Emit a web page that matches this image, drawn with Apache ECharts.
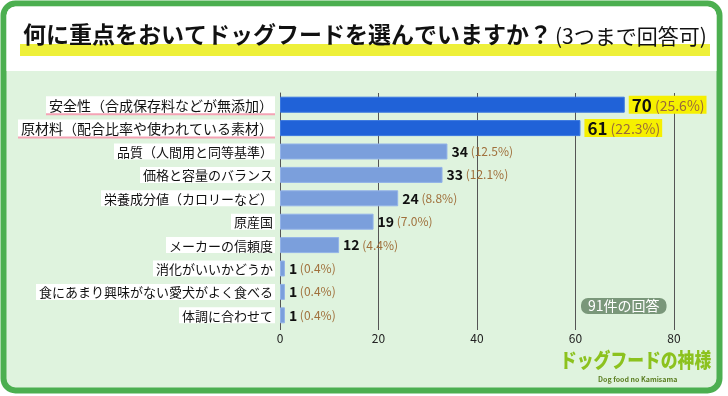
<!DOCTYPE html>
<html>
<head>
<meta charset="utf-8">
<script src="https://cdn.jsdelivr.net/npm/echarts@6/dist/echarts.min.js"></script>
<style>
  html, body { margin: 0; padding: 0; background: #fff; }
  #chart { width: 728px; height: 396px; }
</style>
</head>
<body>
<div id="chart"></div>
<script>
  // 回答項目（上から順）
  const categories = [
    '安全性（合成保存料などが無添加）',
    '原材料（配合比率や使われている素材）',
    '品質（人間用と同等基準）',
    '価格と容量のバランス',
    '栄養成分値（カロリーなど）',
    '原産国',
    'メーカーの信頼度',
    '消化がいいかどうか',
    '食にあまり興味がない愛犬がよく食べる',
    '体調に合わせて'
  ];
  const counts = [70, 61, 34, 33, 24, 19, 12, 1, 1, 1];
  const percents = ['25.6', '22.3', '12.5', '12.1', '8.8', '7.0', '4.4', '0.4', '0.4', '0.4'];
  const xTicks = [0, 20, 40, 60, 80];
  const topCount = 2; // 強調する上位項目

  const FONT = '"Noto Sans CJK JP", "Noto Sans", sans-serif';
  const chart = echarts.init(document.getElementById('chart'));

  const barData = counts.map((v, i) => {
    if (i < topCount) {
      return {
        value: v,
        itemStyle: { color: '#2062d8', borderColor: '#3a78e0', borderWidth: 1 },
        label: { backgroundColor: '#f6f000', padding: [1, 2, 0, 3] }
      };
    }
    return v;
  });

  const option = {
    animation: false,
    backgroundColor: '#fff',
    textStyle: { fontFamily: FONT },
    graphic: [
      {
        type: 'rect', z: 0,
        shape: { x: 3.5, y: 3.5, width: 716, height: 387, r: 12 },
        style: { fill: '#dff3de', stroke: '#4caf50', lineWidth: 6 }
      },
      {
        type: 'rect', z: 1,
        shape: { x: 6.5, y: 6.5, width: 710, height: 64.5, r: [9, 9, 0, 0] },
        style: { fill: '#fff' }
      },
      {
        type: 'rect', z: 2,
        shape: { x: 20, y: 44, width: 690, height: 12 },
        style: { fill: '#eef03a' }
      },
      {
        type: 'text', z: 3, x: 23, y: 23,
        style: {
          text: '何に重点をおいてドッグフードを選んでいますか？',
          font: 'bold 23px ' + FONT, fill: '#111'
        }
      },
      {
        type: 'text', z: 3, x: 555, y: 26,
        style: {
          text: '(3つまで回答可)',
          font: '21px ' + FONT, fill: '#111'
        }
      },
      {
        type: 'text', z: 10, x: 581, y: 298,
        style: {
          text: '91件の回答',
          font: '14px ' + FONT, fill: '#fff',
          backgroundColor: '#7a977a', borderRadius: 7,
          padding: [1, 7, 1, 7]
        }
      },
      {
        type: 'text', z: 3, x: 560, y: 350, scaleX: 0.84,
        style: {
          text: 'ドッグフードの神様',
          font: '900 20px ' + FONT, fill: '#8cc21e'
        }
      },
      {
        type: 'text', z: 3, x: 598, y: 376,
        style: {
          text: 'Dog food no Kamisama',
          font: 'bold 7px ' + FONT, fill: '#5c7f22'
        }
      }
    ],
    grid: {
      left: 280, right: 54, top: 93, bottom: 69,
      show: true, backgroundColor: '#fff', borderWidth: 0
    },
    xAxis: {
      type: 'value',
      min: xTicks[0], max: xTicks[xTicks.length - 1], interval: 20,
      axisLine: { show: false },
      axisTick: { show: true, length: 3, lineStyle: { color: '#555' } },
      axisLabel: { color: '#222', fontSize: 12, margin: 5 },
      splitLine: { show: true, lineStyle: { color: '#555', width: 1 } }
    },
    yAxis: {
      type: 'category',
      inverse: true,
      data: categories,
      axisLine: { show: true, lineStyle: { color: '#555', width: 1 } },
      axisTick: { show: false },
      axisLabel: {
        margin: 5,
        formatter: (val, idx) => (idx < topCount ? '{hl|' + val + '}' : '{n|' + val + '}'),
        rich: {
          hl: {
            fontSize: 14, color: '#111', fontFamily: FONT,
            backgroundColor: '#fff', padding: [2, 2, 1, 3],
            shadowColor: '#f5a3b5', shadowOffsetY: 2, shadowBlur: 0
          },
          n: {
            fontSize: 13, color: '#111', fontFamily: FONT,
            backgroundColor: '#fff', padding: [2, 2, 1, 3]
          }
        }
      }
    },
    series: [{
      type: 'bar',
      data: barData,
      barWidth: 16,
      itemStyle: { color: '#7b9fdc', borderColor: '#93b3e8', borderWidth: 1 },
      label: {
        show: true,
        position: 'right',
        distance: 4,
        formatter: p => {
          const big = p.dataIndex < topCount;
          return (big ? '{b|' : '{v|') + counts[p.dataIndex] + '}' +
                 (big ? '{bp| (' : '{p| (') + percents[p.dataIndex] + '%)}';
        },
        rich: {
          b: { fontSize: 17, fontWeight: 'bold', color: '#111', fontFamily: FONT },
          bp: { fontSize: 14, color: '#9a6a3a', fontFamily: FONT },
          v: { fontSize: 14, fontWeight: 'bold', color: '#111', fontFamily: FONT },
          p: { fontSize: 12, color: '#a0703c', fontFamily: FONT }
        }
      }
    }]
  };

  chart.setOption(option);
</script>
</body>
</html>
